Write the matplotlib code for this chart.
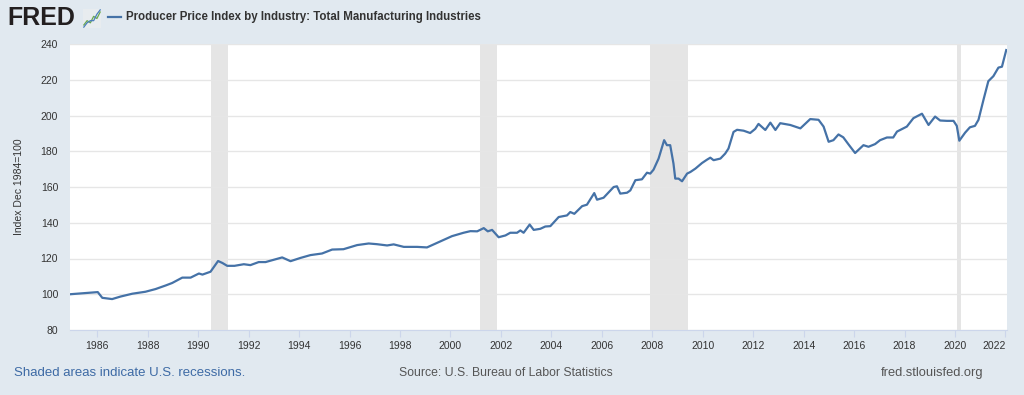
import numpy as np
import matplotlib
matplotlib.use('Agg')
import matplotlib.pyplot as plt
from matplotlib.lines import Line2D

plt.rcParams['font.family'] = ['Liberation Sans', 'DejaVu Sans']

# ========== data ==========
years = [1984.92, 1986.02, 1986.20, 1986.59, 1986.92, 1987.39, 1987.91, 1988.31, 1988.71, 1988.97,
         1989.37, 1989.70, 1990.03, 1990.17, 1990.49, 1990.79, 1990.96, 1991.15, 1991.44, 1991.81,
         1992.07, 1992.40, 1992.67, 1993.33, 1993.66, 1994.05, 1994.45, 1994.91, 1995.31, 1995.76,
         1996.30, 1996.76, 1997.09, 1997.49, 1997.75, 1998.15, 1998.68, 1999.07, 1999.34, 1999.73,
         2000.06, 2000.52, 2000.79, 2001.06, 2001.32, 2001.48, 2001.65, 2001.91, 2002.18, 2002.37,
         2002.64, 2002.77, 2002.90, 2003.14, 2003.30, 2003.56, 2003.76, 2003.96, 2004.29, 2004.62,
         2004.75, 2004.91, 2005.22, 2005.41, 2005.70, 2005.81, 2006.07, 2006.47, 2006.60, 2006.73,
         2007.00, 2007.13, 2007.33, 2007.59, 2007.79, 2007.92, 2008.05, 2008.25, 2008.47, 2008.58,
         2008.71, 2008.84, 2008.91, 2009.04, 2009.18, 2009.38, 2009.51, 2009.71, 2009.97, 2010.17,
         2010.30, 2010.43, 2010.70, 2010.89, 2011.02, 2011.22, 2011.36, 2011.62, 2011.88, 2012.08,
         2012.21, 2012.48, 2012.68, 2012.88, 2013.07, 2013.47, 2013.87, 2014.26, 2014.59, 2014.79,
         2014.99, 2015.18, 2015.38, 2015.57, 2015.78, 2016.04, 2016.37, 2016.57, 2016.83, 2017.03,
         2017.30, 2017.55, 2017.70, 2018.09, 2018.35, 2018.69, 2018.95, 2019.21, 2019.41, 2019.68,
         2019.94, 2020.07, 2020.17, 2020.40, 2020.59, 2020.79, 2020.93, 2021.13, 2021.32, 2021.52,
         2021.72, 2021.86, 2022.03]
ppi = [100.0, 101.2, 98.0, 97.3, 98.7, 100.3, 101.4, 102.9, 104.9, 106.3,
       109.3, 109.3, 111.6, 111.0, 112.6, 118.6, 117.5, 115.9, 115.9, 116.8,
       116.3, 118.0, 118.0, 120.6, 118.5, 120.3, 121.9, 122.8, 125.0, 125.2,
       127.5, 128.4, 128.0, 127.3, 127.9, 126.5, 126.5, 126.2, 127.9, 130.3,
       132.5, 134.4, 135.3, 135.2, 137.0, 135.2, 136.0, 131.9, 132.9, 134.4,
       134.4, 135.7, 134.4, 139.0, 136.0, 136.6, 137.9, 138.1, 143.2, 144.1,
       146.0, 145.0, 149.3, 150.1, 156.6, 152.9, 154.0, 160.0, 160.4, 156.3,
       156.8, 158.1, 163.8, 164.3, 168.0, 167.5, 169.7, 175.9, 186.2, 183.4,
       183.4, 173.1, 164.7, 164.7, 163.2, 167.5, 168.4, 170.3, 173.4, 175.3,
       176.4, 175.0, 175.9, 178.7, 181.5, 190.8, 192.0, 191.5, 190.2, 192.5,
       195.3, 191.9, 196.0, 191.9, 195.7, 194.7, 192.8, 198.0, 197.6, 193.8,
       185.3, 186.2, 189.4, 187.8, 183.8, 179.0, 183.4, 182.5, 184.0, 186.2,
       187.7, 187.7, 191.0, 193.8, 198.5, 201.0, 194.7, 199.4, 197.2, 197.0,
       197.0, 194.2, 185.9, 190.4, 193.4, 194.2, 197.6, 208.9, 219.2, 222.0,
       226.8, 227.3, 236.6]

rec_start = [1990.50, 2001.17, 2007.92, 2020.08]
rec_end = [1991.17, 2001.83, 2009.42, 2020.25]

x_ticks = list(range(1986, 2023, 2))
y_ticks = list(range(80, 241, 20))

# little FRED logo sparkline
logo_green = [1, 3, 2, 5, 4, 7]
logo_blue = [0, 2, 3, 3, 6, 8]

BG = '#e1e9f0'
LINE = '#4572a7'
TXT = '#333333'

# ========== figure ==========
fig = plt.figure(figsize=(10.24, 3.95), dpi=100, facecolor=BG)
ax = fig.add_axes([70 / 1024, 1 - 330 / 395, 937 / 1024, 286 / 395])
ax.set_facecolor('white')

for s, e in zip(rec_start, rec_end):
    ax.axvspan(s, e, color='#e5e5e5', lw=0, zorder=1)

ax.plot(years, ppi, color=LINE, lw=1.6, zorder=3, solid_joinstyle='round')

ax.set_xlim(1984.92, 2022.06)
ax.set_ylim(80, 240)
ax.set_yticks(y_ticks)
ax.set_xticks(x_ticks)
ax.set_xticklabels([str(y) for y in x_ticks])
ax.grid(axis='y', color='#e6e6e6', lw=1, zorder=0)
for side in ['top', 'right', 'left']:
    ax.spines[side].set_visible(False)
ax.spines['bottom'].set_color('#ccd6eb')
ax.tick_params(axis='y', length=0, labelsize=7.5, labelcolor=TXT, pad=8.5)
ax.tick_params(axis='x', length=5, color='#ccd6eb', labelsize=7.5, labelcolor=TXT, pad=3)
ax.get_xticklabels()[-1].set_ha('right')
ax.set_ylabel('Index Dec 1984=100', fontsize=7.5, color=TXT, labelpad=12)

# ========== header ==========
fig.text(7 / 1024, 1 - 18 / 395, 'FRED', fontsize=18, fontweight='bold',
         color='#231f20', va='center', ha='left')
lax = fig.add_axes([83 / 1024, 1 - 28 / 395, 18 / 1024, 19 / 395])
lax.set_facecolor('#e8ecef')
lax.plot(logo_green, color='#6aa84f', lw=0.9)
lax.plot(logo_blue, color='#4a7ebb', lw=0.9)
lax.set_xticks([])
lax.set_yticks([])
for sp in lax.spines.values():
    sp.set_visible(False)

fig.add_artist(Line2D([108 / 1024, 121 / 1024], [1 - 17 / 395, 1 - 17 / 395],
                      color=LINE, lw=1.6))
fig.text(126 / 1024, 1 - 17 / 395,
         'Producer Price Index by Industry: Total Manufacturing Industries',
         family=['Liberation Sans Narrow', 'Liberation Sans'], fontweight='bold',
         fontsize=8.3, color=TXT, va='center', ha='left')

# ========== footer ==========
fig.text(14 / 1024, 1 - 373 / 395, 'Shaded areas indicate U.S. recessions.',
         fontsize=9.5, color='#3d6aa5', va='center', ha='left')
fig.text(506 / 1024, 1 - 373 / 395, 'Source: U.S. Bureau of Labor Statistics',
         fontsize=8.8, color='#555555', va='center', ha='center')
fig.text(983 / 1024, 1 - 373 / 395, 'fred.stlouisfed.org',
         fontsize=9.3, color='#555555', va='center', ha='right')

fig.savefig('out.png', dpi=100, facecolor=BG)
